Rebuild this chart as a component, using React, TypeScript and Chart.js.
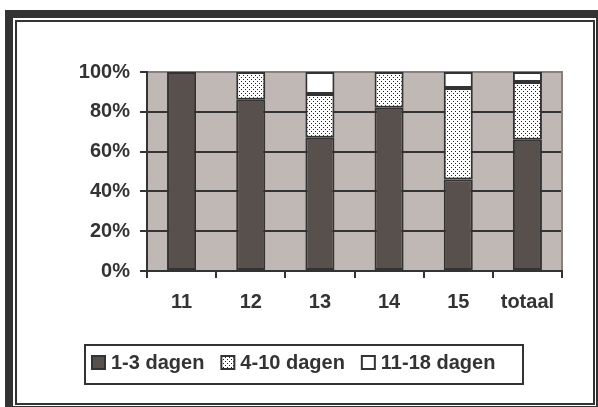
import React, { useEffect, useRef } from "react";
import { Chart, registerables } from "chart.js";

Chart.register(...registerables);

const categories = ["11", "12", "13", "14", "15", "totaal"];
const seriesLabels = ["1-3 dagen", "4-10 dagen", "11-18 dagen"];
const shortStay = [100, 86, 67, 82, 46, 66];
const midStay = [0, 14, 22, 18, 46, 29];
const longStay = [0, 0, 11, 0, 8, 5];
const yTicks = [0, 20, 40, 60, 80, 100];

const TEXT = "#333333";
const DARK_BAR = "#58504d";
const PLOT_BG = "#c0b8b5";
const PLOT_EDGE = "#8c807d";
const FONT = { family: "'Liberation Sans', Arial, sans-serif", size: 20, weight: "bold" as const };

function makeDots(ctx: CanvasRenderingContext2D) {
  const c = document.createElement("canvas");
  c.width = 4;
  c.height = 4;
  const g = c.getContext("2d")!;
  g.fillStyle = "#ffffff";
  g.fillRect(0, 0, 4, 4);
  g.fillStyle = "#222222";
  g.fillRect(1, 1, 1, 1);
  g.fillRect(3, 3, 1, 1);
  return ctx.createPattern(c, "repeat")!;
}

export default function App() {
  const ref = useRef<HTMLCanvasElement | null>(null);

  useEffect(() => {
    const canvas = ref.current!;
    const ctx = canvas.getContext("2d")!;
    const dots = makeDots(ctx);
    const fills: (string | CanvasPattern)[] = [DARK_BAR, dots, "#ffffff"];

    const plotBg = {
      id: "plotBg",
      beforeDraw(chart: any) {
        const { ctx: c, chartArea: a } = chart;
        c.save();
        c.fillStyle = PLOT_BG;
        c.fillRect(a.left, a.top, a.right - a.left, a.bottom - a.top);
        c.restore();
      },
      beforeDatasetsDraw(chart: any) {
        const { ctx: c, chartArea: a } = chart;
        c.save();
        c.strokeStyle = PLOT_EDGE;
        c.lineWidth = 2;
        c.beginPath();
        c.moveTo(a.left + 1, a.top);
        c.lineTo(a.right, a.top);
        c.lineTo(a.right, a.bottom - 1);
        c.stroke();
        c.restore();
      },
    };

    const boxLegend = {
      id: "boxLegend",
      afterDraw(chart: any) {
        const c: CanvasRenderingContext2D = chart.ctx;
        c.save();
        c.strokeStyle = TEXT;
        c.lineWidth = 2;
        c.strokeRect(85, 345, 438, 39);
        c.font = `bold ${FONT.size}px ${FONT.family}`;
        c.textBaseline = "middle";
        c.fillStyle = TEXT;
        let x = 92;
        const cy = 363;
        chart.data.datasets.forEach((ds: any, i: number) => {
          c.fillStyle = fills[i] as any;
          c.fillRect(x, cy - 7, 13, 13);
          c.strokeStyle = TEXT;
          c.lineWidth = 2;
          c.strokeRect(x, cy - 7, 13, 13);
          c.fillStyle = TEXT;
          c.fillText(ds.label, x + 19, cy);
          x += 19 + c.measureText(ds.label).width + 17;
        });
        c.restore();
      },
    };

    const values = [shortStay, midStay, longStay];
    const chart = new Chart(canvas, {
      type: "bar",
      data: {
        labels: categories,
        datasets: seriesLabels.map((label, i) => ({
          label,
          data: values[i],
          backgroundColor: fills[i] as any,
          borderColor: TEXT,
          borderWidth: (c: any) => (c.raw ? 2 : 0),
          borderSkipped: false,
          barPercentage: 0.42,
          categoryPercentage: 1,
        })),
      },
      options: {
        responsive: false,
        animation: false,
        layout: { padding: { left: 0, top: 72, right: 36, bottom: 76 } },
        plugins: { legend: { display: false }, tooltip: { enabled: false } },
        scales: {
          x: {
            stacked: true,
            grid: {
              offset: true,
              drawOnChartArea: false,
              drawTicks: true,
              tickLength: 7,
              color: TEXT,
              lineWidth: 2,
            },
            border: { display: true, color: TEXT, width: 2 },
            ticks: { color: TEXT, font: FONT, padding: 12, maxRotation: 0 },
            afterFit: (s: any) => {
              s.height = 60;
            },
          },
          y: {
            stacked: true,
            min: 0,
            max: 100,
            afterBuildTicks: (s: any) => {
              s.ticks = yTicks.map((v) => ({ value: v }));
            },
            ticks: {
              color: TEXT,
              font: FONT,
              padding: 10,
              callback: (v: any) => `${v}%`,
            },
            grid: { color: TEXT, lineWidth: 2, tickLength: 7 },
            border: { display: true, color: TEXT, width: 2 },
            afterFit: (s: any) => {
              s.width = 147;
            },
          },
        },
      },
      plugins: [plotBg, boxLegend],
    });
    return () => chart.destroy();
  }, []);

  return (
    <div style={{ position: "absolute", left: 0, top: 0, width: 598, height: 407, overflow: "hidden", background: "#fff" }}>
      <div style={{ position: "absolute", left: 5, top: 10, width: 600, height: 400, background: "#333" }} />
      <div style={{ position: "absolute", left: 13, top: 18, width: 583, height: 388, background: "#fff" }} />
      <div
        style={{
          position: "absolute",
          left: 15,
          top: 20,
          width: 580,
          height: 385,
          border: "2px solid #333",
          boxSizing: "border-box",
        }}
      />
      <canvas ref={ref} width={598} height={407} style={{ position: "absolute", left: 0, top: 0 }} />
    </div>
  );
}
